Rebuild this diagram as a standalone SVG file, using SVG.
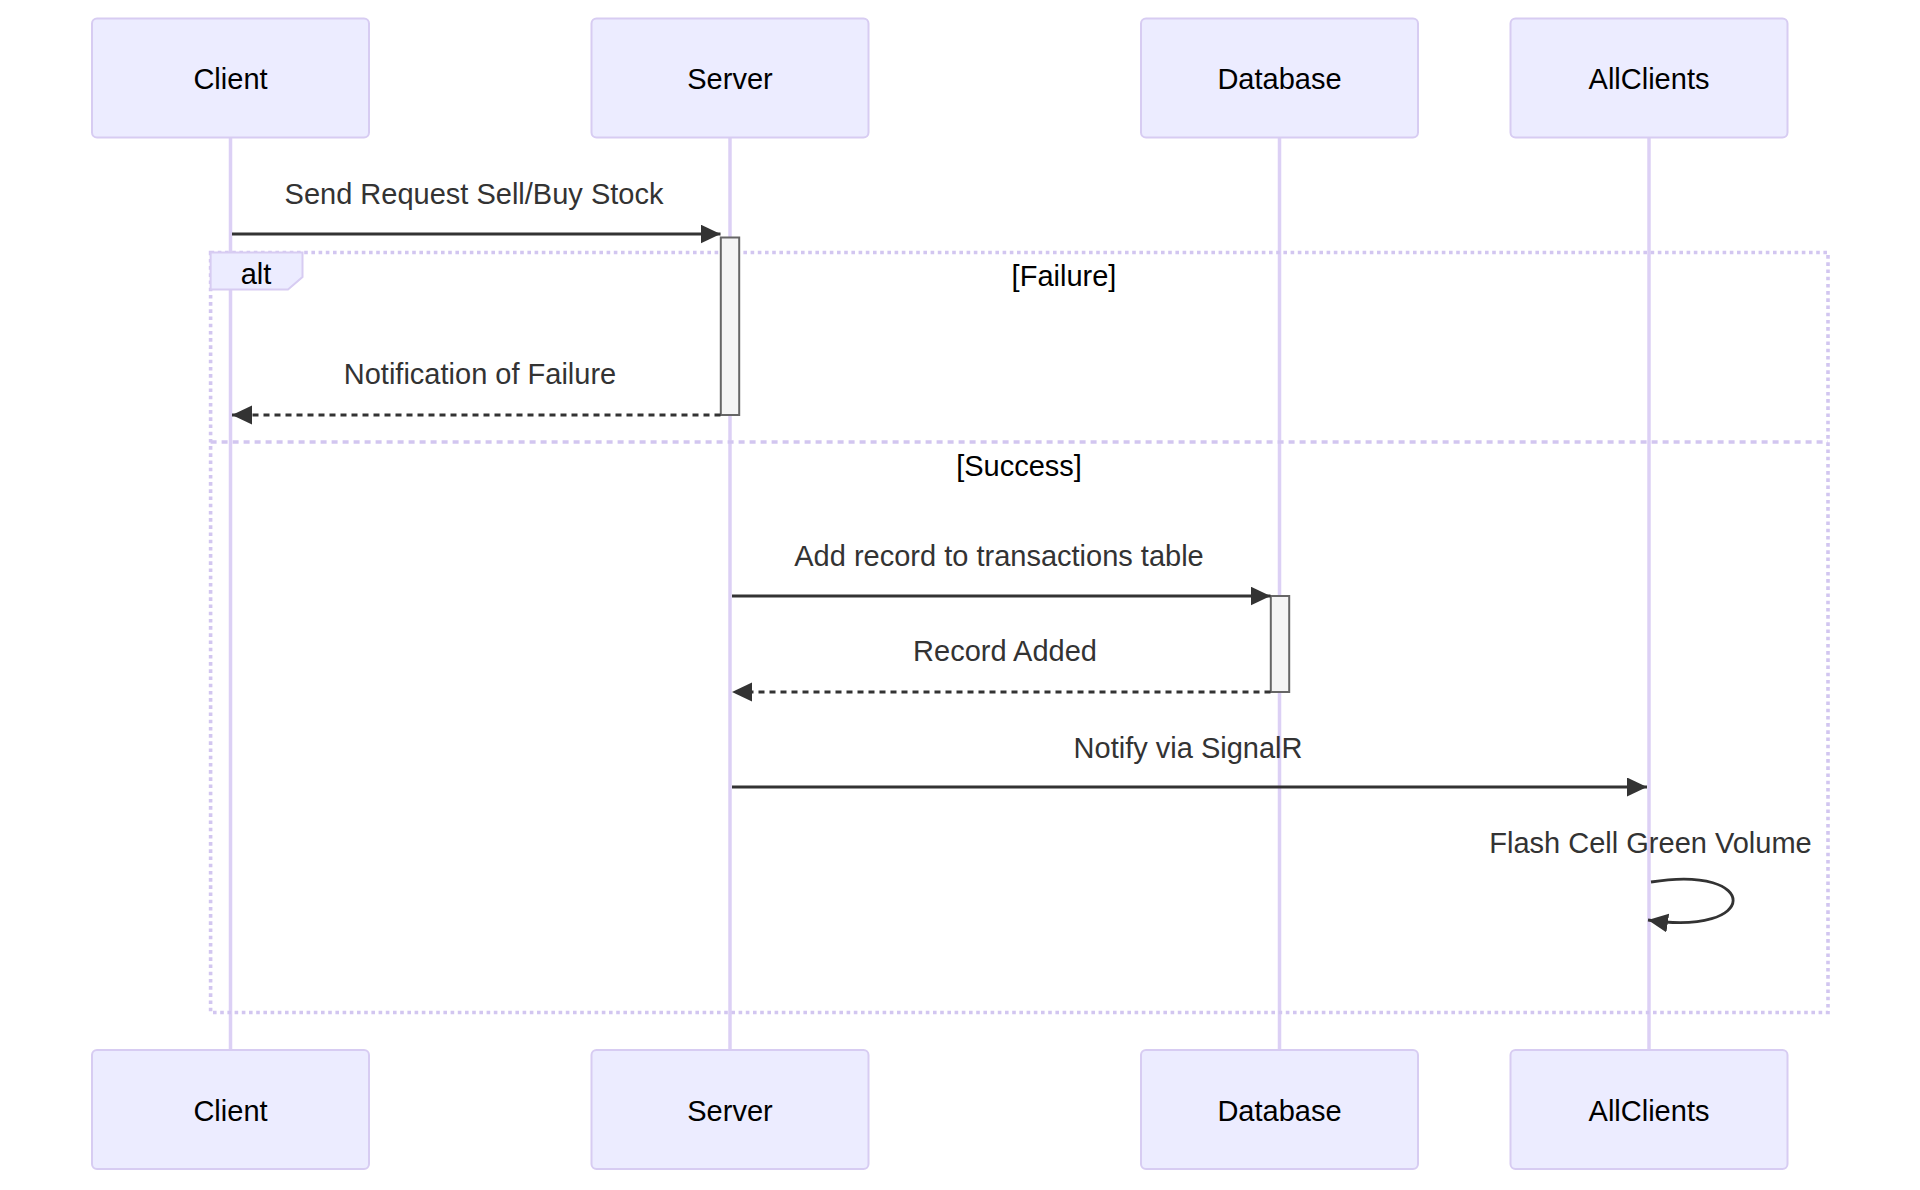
<svg xmlns="http://www.w3.org/2000/svg" width="1920" height="1190" viewBox="0 0 1920 1190">
<style>
  .actor { fill: #ECECFF; stroke: #D7CCF2; stroke-width: 2; }
  .actor-text { font-family: "Liberation Sans", Arial, sans-serif; font-size: 29px; fill: #000; text-anchor: middle; }
  .lifeline { stroke: #DCD0F5; stroke-width: 3.5; fill: none; }
  .msg { stroke: #333; stroke-width: 2.8; fill: none; }
  .dashed { stroke-dasharray: 6 5; }
  .msg-text { font-family: "Liberation Sans", Arial, sans-serif; font-size: 29px; fill: #333; text-anchor: middle; }
  .activation { fill: #F4F4F4; stroke: #666; stroke-width: 2; }
  .loop-box { fill: none; stroke: #D2C6F0; stroke-width: 3.6; stroke-dasharray: 3.6 3.6; }
  .loop-sep { fill: none; stroke: #D2C6F0; stroke-width: 3.6; stroke-dasharray: 6 5; }
  .label-box { fill: #ECECFF; stroke: #D7CCF2; stroke-width: 2; }
  .loop-text { font-family: "Liberation Sans", Arial, sans-serif; font-size: 29px; fill: #000; text-anchor: middle; }
</style>
<defs>
  <marker id="arrow" markerUnits="userSpaceOnUse" markerWidth="22" markerHeight="20" refX="20" refY="9.5" orient="auto">
    <path d="M0,0 L20,9.5 L0,19 z" fill="#333"/>
  </marker>
</defs>
<rect width="1920" height="1190" fill="#fff"/>

<g id="lifelines">
  <line class="lifeline" x1="230.5" y1="137" x2="230.5" y2="1050"/>
  <line class="lifeline" x1="730" y1="137" x2="730" y2="1050"/>
  <line class="lifeline" x1="1279.5" y1="137" x2="1279.5" y2="1050"/>
  <line class="lifeline" x1="1649" y1="137" x2="1649" y2="1050"/>
</g>

<g id="alt-block">
  <rect class="loop-box" x="210.6" y="252.5" width="1617.4" height="760"/>
  <line class="loop-sep" x1="210.6" y1="442" x2="1828" y2="442"/>
  <polygon class="label-box" points="210.6,252.5 302.5,252.5 302.5,277 288,289.5 210.6,289.5"/>
  <text class="loop-text" x="256" y="283.5">alt</text>
  <text class="loop-text" x="1064" y="286">[Failure]</text>
  <text class="loop-text" x="1019" y="475.5">[Success]</text>
</g>

<g id="activations">
  <rect class="activation" x="720.8" y="237.5" width="18.4" height="177.5"/>
  <rect class="activation" x="1270.8" y="596" width="18.4" height="96"/>
</g>

<g id="actor-client-top">
  <rect class="actor" x="92" y="18.5" width="277" height="119" rx="5"/>
  <text class="actor-text" x="230.5" y="88.5">Client</text>
</g>
<g id="actor-server-top">
  <rect class="actor" x="591.5" y="18.5" width="277" height="119" rx="5"/>
  <text class="actor-text" x="730" y="88.5">Server</text>
</g>
<g id="actor-database-top">
  <rect class="actor" x="1141" y="18.5" width="277" height="119" rx="5"/>
  <text class="actor-text" x="1279.5" y="88.5">Database</text>
</g>
<g id="actor-allclients-top">
  <rect class="actor" x="1510.5" y="18.5" width="277" height="119" rx="5"/>
  <text class="actor-text" x="1649" y="88.5">AllClients</text>
</g>

<g id="actor-client-bottom">
  <rect class="actor" x="92" y="1050" width="277" height="119" rx="5"/>
  <text class="actor-text" x="230.5" y="1121">Client</text>
</g>
<g id="actor-server-bottom">
  <rect class="actor" x="591.5" y="1050" width="277" height="119" rx="5"/>
  <text class="actor-text" x="730" y="1121">Server</text>
</g>
<g id="actor-database-bottom">
  <rect class="actor" x="1141" y="1050" width="277" height="119" rx="5"/>
  <text class="actor-text" x="1279.5" y="1121">Database</text>
</g>
<g id="actor-allclients-bottom">
  <rect class="actor" x="1510.5" y="1050" width="277" height="119" rx="5"/>
  <text class="actor-text" x="1649" y="1121">AllClients</text>
</g>

<g id="connectors">
  <text class="msg-text" x="474" y="204">Send Request Sell/Buy Stock</text>
  <line class="msg" x1="232" y1="234" x2="720.5" y2="234" marker-end="url(#arrow)"/>

  <text class="msg-text" x="480" y="384">Notification of Failure</text>
  <line class="msg dashed" x1="720.5" y1="415" x2="232" y2="415" marker-end="url(#arrow)"/>

  <text class="msg-text" x="999" y="565.5">Add record to transactions table</text>
  <line class="msg" x1="732" y1="596" x2="1270.5" y2="596" marker-end="url(#arrow)"/>

  <text class="msg-text" x="1005" y="660.5">Record Added</text>
  <line class="msg dashed" x1="1270.5" y1="692" x2="732" y2="692" marker-end="url(#arrow)"/>

  <text class="msg-text" x="1188" y="757.5">Notify via SignalR</text>
  <line class="msg" x1="732" y1="787" x2="1647" y2="787" marker-end="url(#arrow)"/>

  <text class="msg-text" x="1650.5" y="853">Flash Cell Green Volume</text>
  <path class="msg" d="M1651,882 C1761,864 1761,937 1648,920" marker-end="url(#arrow)"/>
</g>
</svg>
